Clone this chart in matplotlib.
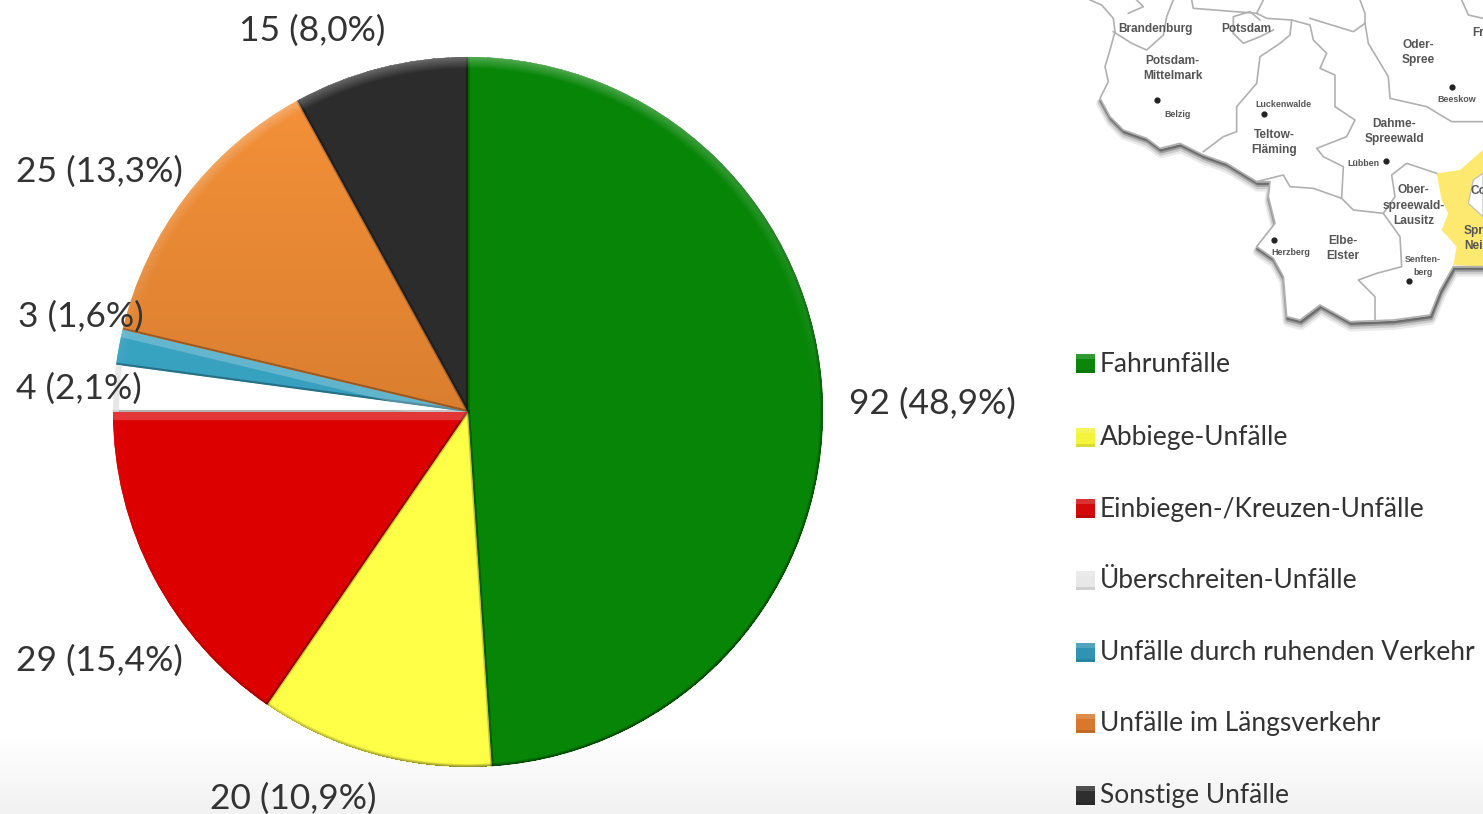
import numpy as np
import matplotlib
matplotlib.use("Agg")
import matplotlib.pyplot as plt
from matplotlib.patches import Rectangle, Polygon, Wedge
from matplotlib.colors import LinearSegmentedColormap

plt.rcParams["font.family"] = ["Lato", "DejaVu Sans"]

# data
categories = ["Fahrunfälle", "Abbiege-Unfälle", "Einbiegen-/Kreuzen-Unfälle",
              "Überschreiten-Unfälle", "Unfälle durch ruhenden Verkehr",
              "Unfälle im Längsverkehr", "Sonstige Unfälle"]
values = [92, 20, 29, 4, 3, 25, 15]
value_labels = ["92 (48,9%)", "20 (10,9%)", "29 (15,4%)", "4 (2,1%)",
                "3 (1,6%)", "25 (13,3%)", "15 (8,0%)"]
colors_top = ["#078507", "#ffff47", "#dc0000", "#ffffff", "#3fb0cf", "#f7933a", "#2c2c2c"]
colors_bottom = ["#078507", "#ffff47", "#dc0000", "#ffffff", "#2f8fae", "#bd6a25", "#2c2c2c"]
legend_colors = ["#0a860a", "#f4f43c", "#d40a0a", "#e8e8e8", "#2f93b3", "#d9782a", "#2e2e2e"]

label_pos = [(932, 404), (293, 799), (99, 661), (79, 389), (81, 317), (99, 172), (312, 31)]
legend_y = [363, 437, 508, 580, 652, 723, 795]

# map pieces, in pixels of the 3x crop (x/3+1060, y/3)
map_outer = [(90, 0), (125, 15), (160, 55), (165, 95), (150, 150), (135, 200), (145, 245), (120, 295),
             (150, 350), (190, 390), (260, 415), (300, 445), (360, 430), (430, 465), (500, 490),
             (590, 545), (630, 545), (625, 590), (645, 670), (590, 740), (640, 775), (670, 830),
             (680, 950), (720, 960), (780, 915), (870, 965), (1000, 960), (1110, 945), (1140, 870),
             (1180, 800), (1269, 800)]
map_lines = [
    [(430, 455), (490, 410), (530, 395), (530, 320), (590, 250), (600, 170), (660, 130), (690, 105), (695, 60), (620, 55), (590, 40), (610, 0)],
    [(695, 60), (750, 75), (760, 120), (800, 160), (780, 205), (825, 225), (825, 320), (885, 360), (860, 410), (770, 445), (790, 470), (850, 500), (845, 595), (760, 565), (690, 560), (670, 525), (590, 545)],
    [(750, 55), (880, 95), (915, 70), (925, 130), (985, 230), (990, 295), (1100, 320), (1175, 365), (1269, 365)],
    [(845, 595), (880, 630), (970, 640), (1020, 710), (1025, 800), (950, 820), (895, 840), (945, 890), (945, 960)],
    [(970, 640), (1005, 590), (995, 525), (1040, 490), (1130, 520)],
    [(160, 95), (215, 130), (260, 150), (310, 105), (320, 50), (340, 0)],
    [(205, 40), (250, 20), (230, 0)],
    [(520, 100), (550, 130), (600, 110), (640, 90)],
    [(520, 100), (520, 50), (570, 35), (600, 60)],
    [(395, 0), (400, 25), (590, 40)],
    [(900, 0), (915, 40), (915, 70)],
    [(1205, 0), (1225, 45), (1269, 55)],
]
map_yellow = [(1130, 520), (1200, 510), (1269, 450), (1269, 800), (1180, 795), (1190, 740),
              (1145, 690), (1165, 640), (1145, 600)]
map_hole = [(1269, 520), (1240, 540), (1225, 610), (1269, 650)]
big = 8.6
small = 6.4
map_labels = [("Brandenburg", 287, 88, big), ("Potsdam", 558, 88, big), ("Potsdam-", 338, 183, big),
              ("Mittelmark", 338, 227, big), ("Belzig", 352, 343, small), ("Luckenwalde", 670, 313, small),
              ("Teltow-", 642, 405, big), ("Fläming", 642, 450, big), ("Oder-", 1075, 134, big),
              ("Spree", 1075, 181, big), ("Beeskow", 1190, 300, small), ("Dahme-", 1003, 371, big),
              ("Spreewald", 1003, 417, big), ("Lübben", 910, 491, small), ("Ober-", 1060, 570, big),
              ("spreewald-", 1060, 617, big), ("Lausitz", 1060, 662, big), ("Elbe-", 848, 722, big),
              ("Elster", 848, 767, big), ("Herzberg", 692, 757, small), ("Senften-", 1088, 780, small),
              ("berg", 1088, 818, small), ("Spr", 1240, 692, big), ("Nei", 1240, 738, big),
              ("Co", 1254, 572, big), ("Fr", 1254, 100, big)]
map_dots = [(290, 300), (612, 342), (1175, 260), (978, 484), (641, 720), (1048, 844)]


def mp(points):
    # crop coordinates to image pixels
    return [(1060 + x / 3, y / 3) for x, y in points]


fig = plt.figure(figsize=(14.83, 8.14), dpi=100)
ax = fig.add_axes([0, 0, 1, 1])
extent_all = [0, 1483, 814, 0]

# faint grey fade at the bottom of the slide
fade = np.clip((np.arange(814) - 735) / 79, 0, 1).reshape(-1, 1)
bg = LinearSegmentedColormap.from_list("bg", ["#ffffff", "#f2f2f2"])
ax.imshow(fade, cmap=bg, extent=extent_all, aspect="auto", zorder=0)

# map: soft shadow only under the south side
south = np.array(mp(map_outer[7:]))
for offset, lw, alpha in [(5, 7, 0.10), (4, 5, 0.16), (3, 3, 0.30), (2, 1.8, 0.45)]:
    ax.plot(south[:, 0] + 1, south[:, 1] + offset, color="#333333", lw=lw, alpha=alpha,
            solid_capstyle="round", zorder=1)
ax.add_patch(Polygon(mp(map_outer) + [(1483, 0), (1090, 0)], closed=True, fc="white", ec="none", zorder=1.5))
ax.add_patch(Polygon(mp(map_yellow), closed=True, fc="#fde96f", ec="none", zorder=2))
ax.add_patch(Polygon(mp(map_hole), closed=True, fc="white", ec="#bbbbbb", lw=0.8, zorder=2))
for line in [map_outer] + map_lines:
    pts = np.array(mp(line))
    ax.plot(pts[:, 0], pts[:, 1], color="#b0b0b0", lw=1.2, zorder=3)
for name, x, y, size in map_labels:
    px, py = mp([(x, y)])[0]
    ax.text(px, py, name, fontsize=size, color="#555555", ha="center", va="center",
            fontweight="bold", family=["Liberation Sans"], zorder=4, clip_on=True)
dots = np.array(mp(map_dots))
ax.scatter(dots[:, 0], dots[:, 1], s=12, color="#222222", zorder=4)

# pie: y axis runs downwards here, so counterclock in data is clockwise on screen
center = (468, 412)
radius = 355
wedges, _ = ax.pie(values, colors=colors_top, startangle=-90, counterclock=True,
                   center=center, radius=radius, frame=False,
                   wedgeprops={"linewidth": 0, "zorder": 5})
pie_extent = [center[0] - radius, center[0] + radius, center[1] + radius, center[1] - radius]
for i, w in enumerate(wedges):
    # vertical colour run inside the slice
    cmap = LinearSegmentedColormap.from_list("w%d" % i, [colors_top[i], colors_bottom[i]])
    im = ax.imshow(np.linspace(0, 1, 200).reshape(-1, 1), cmap=cmap, extent=pie_extent,
                   aspect="auto", zorder=5)
    im.set_clip_path(w)
    # bevel along the straight sides: strong light only on sides that face straight up
    for angle, inward in [(w.theta1, 90), (w.theta2, -90)]:
        rad = np.deg2rad(angle)
        tip = (center[0] + radius * np.cos(rad), center[1] + radius * np.sin(rad))
        facing = np.sin(rad + np.deg2rad(inward))
        if facing > 0.85:
            colour, alpha, lw = ("white", 0.22, 11)
        elif facing < 0:
            colour, alpha, lw = ("black", 0.30, 3)
        else:
            colour, alpha, lw = ("black", 0.22, 2)
        bevel, = ax.plot([center[0], tip[0]], [center[1], tip[1]], color=colour, alpha=alpha, lw=lw, zorder=6)
        bevel.set_clip_path(w)

# white slice needs a visible edge
white = wedges[categories.index("Überschreiten-Unfälle")]
ax.add_patch(Wedge(center, radius, white.theta1, white.theta2, width=6, fc="#dddddd", ec="none", alpha=0.7, zorder=6))

# bevel on the round edge: light band on top, thin dark line to the lower right
yy, xx = np.mgrid[center[1] - radius:center[1] + radius, center[0] - radius:center[0] + radius]
dx = (xx + 0.5 - center[0])
dy = (yy + 0.5 - center[1])
rr = np.hypot(dx, dy)
nx, ny = dx / np.maximum(rr, 1), dy / np.maximum(rr, 1)
depth = radius - rr
light = np.clip(-ny, 0, 1) * np.clip(1 - depth / 12, 0, 1) * 0.30
dark = np.clip(0.3 + 0.7 * (0.6 * nx + 0.8 * ny), 0, 1) * np.clip(1 - depth / 3.5, 0, 1) * 0.55
alpha = np.clip(light + dark, 0, 1)
alpha[depth < 0] = 0
rgba = np.zeros(rr.shape + (4,))
shade = light / np.maximum(light + dark, 1e-6)
rgba[..., 0] = shade
rgba[..., 1] = shade
rgba[..., 2] = shade
rgba[..., 3] = alpha
ax.imshow(rgba, extent=pie_extent, aspect="auto", zorder=7)

# labels
for text, (x, y) in zip(value_labels, label_pos):
    ax.text(x, y, text, fontsize=25.5, color="#333333", ha="center", va="center", zorder=8)

# legend
for name, colour, y in zip(categories, legend_colors, legend_y):
    ax.add_patch(Rectangle((1075.5, y - 9), 19, 19, fc=colour, ec="none", zorder=8))
    ax.add_patch(Rectangle((1075.5, y - 9), 19, 5, fc="white", ec="none", alpha=0.16, zorder=8))
    ax.add_patch(Rectangle((1075.5, y + 7), 19, 3, fc="black", ec="none", alpha=0.10, zorder=8))
    ax.text(1100, y + 1, name, fontsize=19, color="#333333", ha="left", va="center", zorder=8)

ax.set_xlim(0, 1483)
ax.set_ylim(814, 0)
ax.set_aspect("auto")
ax.axis("off")
fig.savefig("out.png", dpi=100)
plt.close(fig)
